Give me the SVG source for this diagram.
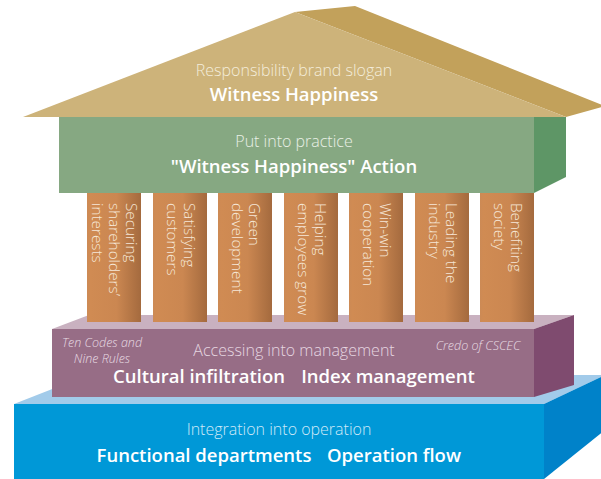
<svg xmlns="http://www.w3.org/2000/svg" width="601" height="479" viewBox="0 0 601 479">
<defs>
<linearGradient id="pg" x1="0" y1="0" x2="1" y2="0">
<stop offset="0" stop-color="#CC8A55"/>
<stop offset="0.06" stop-color="#D08B53"/>
<stop offset="0.55" stop-color="#CB8751"/>
<stop offset="1" stop-color="#A46A3E"/>
</linearGradient>
<style>
text{font-family:"Open Sans","Noto Sans","DejaVu Sans",sans-serif;}
.lt{font-weight:300;font-size:16px;text-anchor:middle;}
.bd{font-weight:600;font-size:18.5px;fill:#FFFFFF;text-anchor:middle;}
.it{font-weight:300;font-style:italic;font-size:12.5px;fill:#E8DCE4;text-anchor:middle;}
.pt{font-weight:300;font-size:15.3px;fill:#F6E7D8;}
.pil{fill:url(#pg);}
</style>
</defs>

<g id="base">
<polygon points="14,404 88,375 605,375 544,404" fill="#A2CBEA"/>
<polygon points="544,404 605,375 605,430 544,479" fill="#0082C9"/>
<rect x="14" y="404" width="530" height="76" fill="#0098D7"/>
<text class="lt" x="279" y="435" fill="#CFE9F8">Integration into operation</text>
<text class="bd" x="204" y="462">Functional departments</text>
<text class="bd" x="394" y="462">Operation flow</text>
</g>

<g id="management">
<polygon points="52,329 89,315 574,315 534,329" fill="#C9B1C0"/>
<polygon points="534,329 574,315 574,385 534,397" fill="#7F4B6F"/>
<rect x="52" y="329" width="482" height="68" fill="#976D86"/>
<text class="it" x="102" y="347">Ten Codes and</text>
<text class="it" x="102" y="363">Nine Rules</text>
<text class="it" x="478" y="350">Credo of CSCEC</text>
<text class="lt" x="294" y="356" fill="#E6D6E1">Accessing into management</text>
<text class="bd" x="199" y="383">Cultural infiltration</text>
<text class="bd" x="388" y="383">Index management</text>
</g>

<g id="pillar1"><rect class="pil" x="87" y="193" width="54" height="129"/>
<text class="pt" transform="translate(126,203) rotate(90)">Securing<tspan x="0" dy="17">shareholders’</tspan><tspan x="0" dy="17">interests</tspan></text></g>
<g id="pillar2"><rect class="pil" x="153" y="193" width="54" height="129"/>
<text class="pt" transform="translate(183.5,203) rotate(90)">Satisfying<tspan x="0" dy="17">customers</tspan></text></g>
<g id="pillar3"><rect class="pil" x="218" y="193" width="54" height="129"/>
<text class="pt" transform="translate(248.5,203) rotate(90)">Green<tspan x="0" dy="17">development</tspan></text></g>
<g id="pillar4"><rect class="pil" x="284" y="193" width="54" height="129"/>
<text class="pt" transform="translate(314.5,203) rotate(90)">Helping<tspan x="0" dy="17">employees grow</tspan></text></g>
<g id="pillar5"><rect class="pil" x="349" y="193" width="54" height="129"/>
<text class="pt" transform="translate(379.5,203) rotate(90)">Win-win<tspan x="0" dy="17">cooperation</tspan></text></g>
<g id="pillar6"><rect class="pil" x="415" y="193" width="54" height="129"/>
<text class="pt" transform="translate(445.5,203) rotate(90)">Leading the<tspan x="0" dy="17">industry</tspan></text></g>
<g id="pillar7"><rect class="pil" x="480" y="193" width="54" height="129"/>
<text class="pt" transform="translate(510.5,203) rotate(90)">Benefiting<tspan x="0" dy="17">society</tspan></text></g>

<g id="action">
<polygon points="534,117 566,117 566,177 534,193" fill="#5E9666"/>
<rect x="59" y="117" width="475" height="76" fill="#86A882"/>
<text class="lt" x="294" y="147" fill="#E9F0E6">Put into practice</text>
<text class="bd" x="294" y="173">"Witness Happiness" Action</text>
</g>

<g id="roof">
<polygon points="295,12 355,6 605,106 566,117" fill="#C2A15B"/>
<polygon points="23,117 295,12 566,117" fill="#CDB37A"/>
<text class="lt" x="294" y="76" fill="#F4EDDB">Responsibility brand slogan</text>
<text class="bd" x="294" y="101">Witness Happiness</text>
</g>
<g id="connectors"/>
</svg>
